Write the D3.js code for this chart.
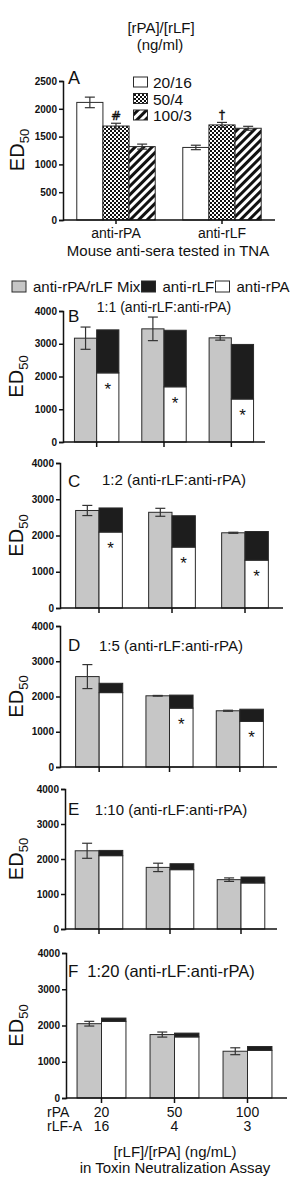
<!DOCTYPE html>
<html>
<head>
<meta charset="utf-8">
<script src="https://cdn.jsdelivr.net/npm/d3@7"></script>
<style>
  body { margin: 0; background: #fff; }
  svg { display: block; font-family: "Liberation Sans", Arial, sans-serif; }
  svg text { fill: #111; }
</style>
</head>
<body>
<div id="chart"></div>
<script>
// ---- panel A data ----
var aGroups = ["anti-rPA", "anti-rLF"];
var aSeries = ["20/16", "50/4", "100/3"];
var aMeans = [[2115, 1690, 1320], [1305, 1710, 1650]];
var aErrors = [[95, 50, 45], [40, 45, 35]];
var aMarks = [["", "#", ""], ["", "\u2020", ""]];
var aTicks = [0, 500, 1000, 1500, 2000, 2500];

// ---- panels B-F data ----
var rpaDoses = ["20", "50", "100"];
var lfDoses = ["16", "4", "3"];
var stackSeries = ["anti-rPA/rLF Mix", "anti-rLF", "anti-rPA"];
var panelLetters = ["B", "C", "D", "E", "F"];
var panelRatios = ["1:1", "1:2", "1:5", "1:10", "1:20"];
var mixMeans = [[3170, 3455, 3180], [2690, 2640, 2075], [2565, 2020, 1595], [2235, 1760, 1410], [2050, 1750, 1290]];
var mixErrors = [[340, 360, 70], [140, 110, 15], [340, 10, 15], [215, 120, 50], [65, 70, 95]];
var rpaMeans = [[2110, 1685, 1312], [2095, 1680, 1320], [2110, 1670, 1295], [2095, 1695, 1315], [2115, 1685, 1315]];
var rlfMeans = [[1314, 1727, 1667], [665, 865, 790], [265, 370, 345], [150, 170, 170], [90, 105, 105]];
var starFlags = [[1, 1, 1], [1, 1, 1], [0, 1, 1], [0, 0, 0], [0, 0, 0]];
var stackTicks = [0, 1000, 2000, 3000, 4000];

// layout of each panel (pixels)
var layouts = [
  {x0: 63, x1: 265, b0: 63,   b1: 265,   top: 311, bot: 442,  pad: 0.34, subX: 164, subY: 312, subSize: 14,   letY: 322},
  {x0: 60, x1: 283, b0: 62.5, b1: 281.5, top: 463, bot: 608,  pad: 0.36, subX: 174, subY: 485, subSize: 15,   letY: 487},
  {x0: 60, x1: 277, b0: 64,   b1: 275,   top: 626, bot: 767,  pad: 0.33, subX: 171, subY: 651, subSize: 15,   letY: 651},
  {x0: 65, x1: 277, b0: 63.5, b1: 276.5, top: 789, bot: 929,  pad: 0.33, subX: 171, subY: 815, subSize: 15,   letY: 815},
  {x0: 66, x1: 287, b0: 65,   b1: 284,   top: 953, bot: 1098, pad: 0.33, subX: 171, subY: 977, subSize: 16.5, letY: 977}
];

var W = 290, H = 1178;
var GREY = "#c6c6c6", DARK = "#1d1d1d", EDGE = "#2a2a2a";

var svg = d3.select("#chart").append("svg")
  .attr("width", W).attr("height", H);

// patterns for panel A
var defs = svg.append("defs");
var chk = defs.append("pattern").attr("id", "checker")
  .attr("width", 4).attr("height", 4).attr("patternUnits", "userSpaceOnUse");
chk.append("rect").attr("width", 4).attr("height", 4).attr("fill", "#fff");
chk.append("rect").attr("width", 2).attr("height", 2).attr("fill", "#111");
chk.append("rect").attr("x", 2).attr("y", 2).attr("width", 2).attr("height", 2).attr("fill", "#111");

var hat = defs.append("pattern").attr("id", "hatch")
  .attr("width", 6).attr("height", 6).attr("patternUnits", "userSpaceOnUse")
  .attr("patternTransform", "rotate(45)");
hat.append("rect").attr("width", 6).attr("height", 6).attr("fill", "#fff");
hat.append("rect").attr("width", 3).attr("height", 6).attr("fill", "#111");

var aFills = ["#fff", "url(#checker)", "url(#hatch)"];

function yLabel(g, x, yMid) {
  var t = g.append("text")
    .attr("transform", "translate(" + x + "," + yMid + ") rotate(-90)")
    .attr("text-anchor", "middle")
    .attr("font-size", 20);
  t.append("tspan").text("ED");
  t.append("tspan").attr("font-size", 13).attr("dy", 5).text("50");
}

function yAxis(g, x, y, ticks) {
  var ax = g.append("g").attr("transform", "translate(" + x + ",0)")
    .call(d3.axisLeft(y).tickValues(ticks).tickSize(4).tickPadding(2).tickFormat(d3.format("d")));
  ax.select(".domain").attr("stroke", "#111").attr("stroke-width", 1.5);
  ax.selectAll(".tick line").attr("stroke", "#111").attr("stroke-width", 1.5);
  ax.selectAll(".tick text").attr("font-size", 10).attr("font-weight", "bold")
    .attr("font-family", "Liberation Sans, Arial, sans-serif");
}

function errBar(g, cx, y, m, e, halfCap) {
  var eb = g.append("g").attr("stroke", "#333").attr("stroke-width", 1.2);
  eb.append("line").attr("x1", cx).attr("x2", cx).attr("y1", y(m - e)).attr("y2", y(m + e));
  eb.append("line").attr("x1", cx - halfCap).attr("x2", cx + halfCap).attr("y1", y(m + e)).attr("y2", y(m + e));
  eb.append("line").attr("x1", cx - halfCap).attr("x2", cx + halfCap).attr("y1", y(m - e)).attr("y2", y(m - e));
}

// ---------------- panel A ----------------
(function () {
  var g = svg.append("g");
  var y = d3.scaleLinear().domain([0, 2500]).range([220, 81]);
  var x = d3.scaleBand().domain(aGroups).range([63, 275]).paddingInner(0.26).paddingOuter(0.13);
  var xs = d3.scaleBand().domain(aSeries).range([0, x.bandwidth()]);

  g.append("text").attr("x", 161).attr("y", 33).attr("text-anchor", "middle")
    .attr("font-size", 15).text("[rPA]/[rLF]");
  g.append("text").attr("x", 160).attr("y", 50).attr("text-anchor", "middle")
    .attr("font-size", 15).text("(ng/ml)");

  aGroups.forEach(function (grp, gi) {
    aSeries.forEach(function (s, si) {
      var bx = x(grp) + xs(s);
      var m = aMeans[gi][si];
      g.append("rect").attr("x", bx).attr("y", y(m))
        .attr("width", xs.bandwidth()).attr("height", y(0) - y(m))
        .attr("fill", aFills[si]).attr("stroke", EDGE).attr("stroke-width", 1);
      errBar(g, bx + xs.bandwidth() / 2, y, m, aErrors[gi][si], 5);
      if (aMarks[gi][si]) {
        g.append("text").attr("x", bx + xs.bandwidth() / 2).attr("y", y(m + aErrors[gi][si]) - 3)
          .attr("text-anchor", "middle").attr("font-size", 12)
          .attr("font-family", "DejaVu Sans, sans-serif")
          .style("fill", "#111").style("stroke", "#111").style("stroke-width", 0.4)
          .text(aMarks[gi][si]);
      }
    });
  });

  yAxis(g, 63, y, aTicks);
  g.append("line").attr("x1", 63).attr("x2", 275).attr("y1", 220).attr("y2", 220)
    .attr("stroke", "#111").attr("stroke-width", 1.5);
  aGroups.forEach(function (grp) {
    var cx = x(grp) + x.bandwidth() / 2;
    g.append("line").attr("x1", cx).attr("x2", cx).attr("y1", 220).attr("y2", 224)
      .attr("stroke", "#111").attr("stroke-width", 1.5);
    g.append("text").attr("x", cx).attr("y", 238).attr("text-anchor", "middle")
      .attr("font-size", 14).text(grp);
  });
  g.append("text").attr("x", 168).attr("y", 256).attr("text-anchor", "middle")
    .attr("font-size", 15).text("Mouse anti-sera tested in TNA");

  g.append("text").attr("x", 68).attr("y", 84).attr("font-size", 18).text("A");
  yLabel(g, 24, 150);

  // legend
  aSeries.forEach(function (s, si) {
    var ly = 77 + si * 16.5;
    g.append("rect").attr("x", 133.5).attr("y", ly).attr("width", 14).attr("height", 10)
      .attr("fill", aFills[si]).attr("stroke", EDGE).attr("stroke-width", 1);
    g.append("text").attr("x", 153).attr("y", ly + 11).attr("font-size", 15.5).text(s);
  });
})();

// ---------------- legend for B-F ----------------
var stackFills = [GREY, DARK, "#fff"];
var legX = [12, 141.5, 215.5];
stackSeries.forEach(function (s, i) {
  svg.append("rect").attr("x", legX[i]).attr("y", 281).attr("width", 14).attr("height", 11)
    .attr("fill", stackFills[i]).attr("stroke", EDGE).attr("stroke-width", 1);
  svg.append("text").attr("x", legX[i] + 21).attr("y", 291.5).attr("font-size", 15).text(s);
});

// ---------------- panels B-F ----------------
panelLetters.forEach(function (letter, pi) {
  var L = layouts[pi];
  var g = svg.append("g");
  var y = d3.scaleLinear().domain([0, 4000]).range([L.bot, L.top]);
  var x = d3.scaleBand().domain(rpaDoses).range([L.b0, L.b1])
    .paddingInner(L.pad).paddingOuter(L.pad / 2);
  var half = x.bandwidth() / 2;

  rpaDoses.forEach(function (d, i) {
    var bx = x(d);
    var mix = mixMeans[pi][i], pa = rpaMeans[pi][i], lf = rlfMeans[pi][i];
    // mix bar
    g.append("rect").attr("x", bx).attr("y", y(mix)).attr("width", half).attr("height", y(0) - y(mix))
      .attr("fill", GREY).attr("stroke", EDGE).attr("stroke-width", 1);
    // stacked: anti-rPA (white) + anti-rLF (black)
    g.append("rect").attr("x", bx + half).attr("y", y(pa)).attr("width", half).attr("height", y(0) - y(pa))
      .attr("fill", "#fff").attr("stroke", EDGE).attr("stroke-width", 1);
    g.append("rect").attr("x", bx + half).attr("y", y(pa + lf)).attr("width", half).attr("height", y(pa) - y(pa + lf))
      .attr("fill", DARK).attr("stroke", EDGE).attr("stroke-width", 1);
    errBar(g, bx + half / 2, y, mix, mixErrors[pi][i], 5);
    if (starFlags[pi][i]) {
      g.append("text").attr("x", bx + half * 1.5).attr("y", y(pa) + 22)
        .attr("text-anchor", "middle").attr("font-size", 17).text("*");
    }
  });

  yAxis(g, L.x0, y, stackTicks);
  g.append("line").attr("x1", L.x0).attr("x2", L.x1).attr("y1", L.bot).attr("y2", L.bot)
    .attr("stroke", "#111").attr("stroke-width", 1.5);
  rpaDoses.forEach(function (d) {
    var cx = x(d) + half;
    g.append("line").attr("x1", cx).attr("x2", cx).attr("y1", L.bot).attr("y2", L.bot + 5)
      .attr("stroke", "#111").attr("stroke-width", 1.5);
  });

  g.append("text").attr("x", 68).attr("y", L.letY).attr("font-size", 17).text(letter);
  g.append("text").attr("x", L.subX).attr("y", L.subY).attr("text-anchor", "middle")
    .attr("font-size", L.subSize).text(panelRatios[pi] + " (anti-rLF:anti-rPA)");
  yLabel(g, 23, (L.top + L.bot) / 2);

  // dose labels under the last panel
  if (pi === panelLetters.length - 1) {
    g.append("text").attr("x", 47).attr("y", 1117).attr("font-size", 14).text("rPA");
    g.append("text").attr("x", 47).attr("y", 1131).attr("font-size", 14).text("rLF-A");
    rpaDoses.forEach(function (d, i) {
      var cx = x(d) + half;
      g.append("text").attr("x", cx).attr("y", 1117).attr("text-anchor", "middle").attr("font-size", 14).text(d);
      g.append("text").attr("x", cx).attr("y", 1131).attr("text-anchor", "middle").attr("font-size", 14).text(lfDoses[i]);
    });
    g.append("text").attr("x", 175).attr("y", 1157).attr("text-anchor", "middle")
      .attr("font-size", 15).text("[rLF]/[rPA] (ng/mL)");
    g.append("text").attr("x", 175).attr("y", 1173).attr("text-anchor", "middle")
      .attr("font-size", 15).text("in Toxin Neutralization Assay");
  }
});
</script>
</body>
</html>
